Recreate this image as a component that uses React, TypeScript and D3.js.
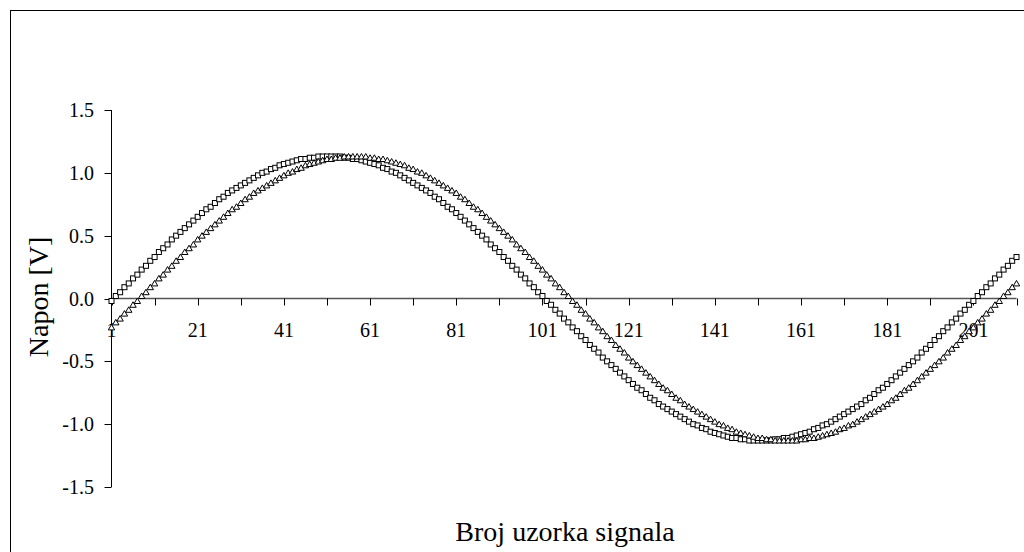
import React from "react";
import * as d3 from "d3";

// Sample numbers 1..211
const samples: number[] = d3.range(1, 212);

// Series 1 (open squares) – voltage [V]
const squareSeries: number[] = [
  -0.02,
  0.02, 0.05, 0.09, 0.12, 0.16, 0.19, 0.23, 0.26, 0.30, 0.33, 0.37, 0.40, 0.43, 0.47, 0.50, 0.53, 0.56, 0.59, 0.62, 0.65,
  0.68, 0.71, 0.73, 0.76, 0.79, 0.81, 0.84, 0.86, 0.88, 0.90, 0.92, 0.94, 0.96, 0.98, 1.00, 1.01, 1.03, 1.04, 1.06, 1.07,
  1.08, 1.09, 1.10, 1.11, 1.11, 1.12, 1.12, 1.13, 1.13, 1.13,
  1.13, 1.13, 1.13, 1.12, 1.12, 1.11, 1.11, 1.10, 1.09, 1.08, 1.07, 1.06, 1.04, 1.03, 1.01, 1.00, 0.98, 0.96, 0.94, 0.92,
  0.90, 0.88, 0.86, 0.84, 0.81, 0.79, 0.76, 0.73, 0.71, 0.68, 0.65, 0.62, 0.59, 0.56, 0.53, 0.50, 0.47, 0.43, 0.40, 0.37,
  0.33, 0.30, 0.26, 0.23, 0.19, 0.16, 0.12, 0.09, 0.05, 0.02,
  -0.02, -0.05, -0.09, -0.12, -0.16, -0.19, -0.23, -0.26, -0.30, -0.33, -0.37, -0.40, -0.43, -0.47, -0.50, -0.53, -0.56, -0.59, -0.62, -0.65,
  -0.68, -0.71, -0.73, -0.76, -0.79, -0.81, -0.84, -0.86, -0.88, -0.90, -0.92, -0.94, -0.96, -0.98, -1.00, -1.01, -1.03, -1.04, -1.06, -1.07,
  -1.08, -1.09, -1.10, -1.11, -1.11, -1.12, -1.12, -1.13, -1.13, -1.13,
  -1.13, -1.13, -1.13, -1.12, -1.12, -1.11, -1.11, -1.10, -1.09, -1.08, -1.07, -1.06, -1.04, -1.03, -1.01, -1.00, -0.98, -0.96, -0.94, -0.92,
  -0.90, -0.88, -0.86, -0.84, -0.81, -0.79, -0.76, -0.73, -0.71, -0.68, -0.65, -0.62, -0.59, -0.56, -0.53, -0.50, -0.47, -0.43, -0.40, -0.37,
  -0.33, -0.30, -0.26, -0.23, -0.19, -0.16, -0.12, -0.09, -0.05, -0.02,
  0.02, 0.05, 0.09, 0.12, 0.16, 0.19, 0.23, 0.26, 0.30, 0.33,
];

// Series 2 (open triangles) – voltage [V]
const triangleSeries: number[] = [
  -0.23, -0.19, -0.16, -0.12, -0.09, -0.05, -0.02,
  0.02, 0.05, 0.09, 0.12, 0.16, 0.19, 0.23, 0.26, 0.30, 0.33, 0.37, 0.40, 0.43, 0.47, 0.50, 0.53, 0.56, 0.59, 0.62, 0.65,
  0.68, 0.71, 0.73, 0.76, 0.79, 0.81, 0.84, 0.86, 0.88, 0.90, 0.92, 0.94, 0.96, 0.98, 1.00, 1.01, 1.03, 1.04, 1.06, 1.07,
  1.08, 1.09, 1.10, 1.11, 1.11, 1.12, 1.12, 1.13, 1.13, 1.13,
  1.13, 1.13, 1.13, 1.12, 1.12, 1.11, 1.11, 1.10, 1.09, 1.08, 1.07, 1.06, 1.04, 1.03, 1.01, 1.00, 0.98, 0.96, 0.94, 0.92,
  0.90, 0.88, 0.86, 0.84, 0.81, 0.79, 0.76, 0.73, 0.71, 0.68, 0.65, 0.62, 0.59, 0.56, 0.53, 0.50, 0.47, 0.43, 0.40, 0.37,
  0.33, 0.30, 0.26, 0.23, 0.19, 0.16, 0.12, 0.09, 0.05, 0.02,
  -0.02, -0.05, -0.09, -0.12, -0.16, -0.19, -0.23, -0.26, -0.30, -0.33, -0.37, -0.40, -0.43, -0.47, -0.50, -0.53, -0.56, -0.59, -0.62, -0.65,
  -0.68, -0.71, -0.73, -0.76, -0.79, -0.81, -0.84, -0.86, -0.88, -0.90, -0.92, -0.94, -0.96, -0.98, -1.00, -1.01, -1.03, -1.04, -1.06, -1.07,
  -1.08, -1.09, -1.10, -1.11, -1.11, -1.12, -1.12, -1.13, -1.13, -1.13,
  -1.13, -1.13, -1.13, -1.12, -1.12, -1.11, -1.11, -1.10, -1.09, -1.08, -1.07, -1.06, -1.04, -1.03, -1.01, -1.00, -0.98, -0.96, -0.94, -0.92,
  -0.90, -0.88, -0.86, -0.84, -0.81, -0.79, -0.76, -0.73, -0.71, -0.68, -0.65, -0.62, -0.59, -0.56, -0.53, -0.50, -0.47, -0.43, -0.40, -0.37,
  -0.33, -0.30, -0.26, -0.23, -0.19, -0.16, -0.12, -0.09, -0.05, -0.02,
  0.02, 0.05, 0.09, 0.12,
];

const yTicks: number[] = [-1.5, -1.0, -0.5, 0.0, 0.5, 1.0, 1.5];
const xTickMarks: number[] = d3.range(1, 212, 10);
const xTickLabels: number[] = d3.range(1, 202, 20);

const yTitle = "Napon [V]";
const xTitle = "Broj uzorka signala";

const W = 1024;
const H = 552;
const FONT = "'Liberation Serif', 'Times New Roman', serif";

export default function App() {
  const x = d3.scalePoint<number>().domain(samples).range([111.5, 1016.5]);
  const y = d3.scaleLinear().domain([-1.5, 1.5]).range([487, 110]);
  const y0 = y(0);
  const xp = (i: number) => x(i) as number;

  const tri = (cx: number, cy: number) =>
    `M${cx},${cy - 3}L${cx + 3.2},${cy + 2.5}L${cx - 3.2},${cy + 2.5}Z`;

  return (
    <svg
      width={W}
      height={H}
      style={{ position: "fixed", left: 0, top: 0, background: "#fff" }}
      fontFamily={FONT}
    >
      <rect x={0} y={0} width={W} height={H} fill="#fff" />
      <rect x={10.5} y={10.5} width={1200} height={700} fill="none" stroke="#000" strokeWidth={1} />

      {/* Y axis */}
      <line x1={111.5} x2={111.5} y1={y(1.5)} y2={y(-1.5)} stroke="#000" strokeWidth={1} />
      {yTicks.map((t) => (
        <g key={t}>
          <line x1={104.5} x2={111.5} y1={Math.round(y(t)) + 0.5} y2={Math.round(y(t)) + 0.5} stroke="#000" />
          <text
            x={94}
            y={y(t)}
            dy="0.35em"
            textAnchor="end"
            fontSize={20}
            fill="#000"
          >
            {t.toFixed(1)}
          </text>
        </g>
      ))}

      {/* X axis at zero */}
      <line x1={111.5} x2={1016.5} y1={y0} y2={y0} stroke="#555" strokeWidth={1.3} />
      {xTickMarks.map((t) => (
        <line
          key={t}
          x1={Math.round(xp(t)) + 0.5}
          x2={Math.round(xp(t)) + 0.5}
          y1={y0}
          y2={y0 + 7}
          stroke="#000"
        />
      ))}
      {xTickLabels.map((t) => (
        <text key={t} x={xp(t)} y={337} textAnchor="middle" fontSize={20} fill="#000">
          {t}
        </text>
      ))}

      {/* Series: squares */}
      {squareSeries.map((v, i) => (
        <rect
          key={"s" + i}
          x={xp(samples[i]) - 2.5}
          y={y(v) - 2.5}
          width={5}
          height={5}
          fill="#fff"
          stroke="#000"
          strokeWidth={1}
        />
      ))}
      {/* Series: triangles */}
      {triangleSeries.map((v, i) => (
        <path
          key={"t" + i}
          d={tri(xp(samples[i]), y(v))}
          fill="#fff"
          stroke="#000"
          strokeWidth={1}
        />
      ))}

      {/* Titles */}
      <text x={565} y={541} textAnchor="middle" fontSize={28} fill="#000">
        {xTitle}
      </text>
      <text
        transform={`translate(48, 297) rotate(-90)`}
        textAnchor="middle"
        fontSize={28}
        fill="#000"
      >
        {yTitle}
      </text>
    </svg>
  );
}
